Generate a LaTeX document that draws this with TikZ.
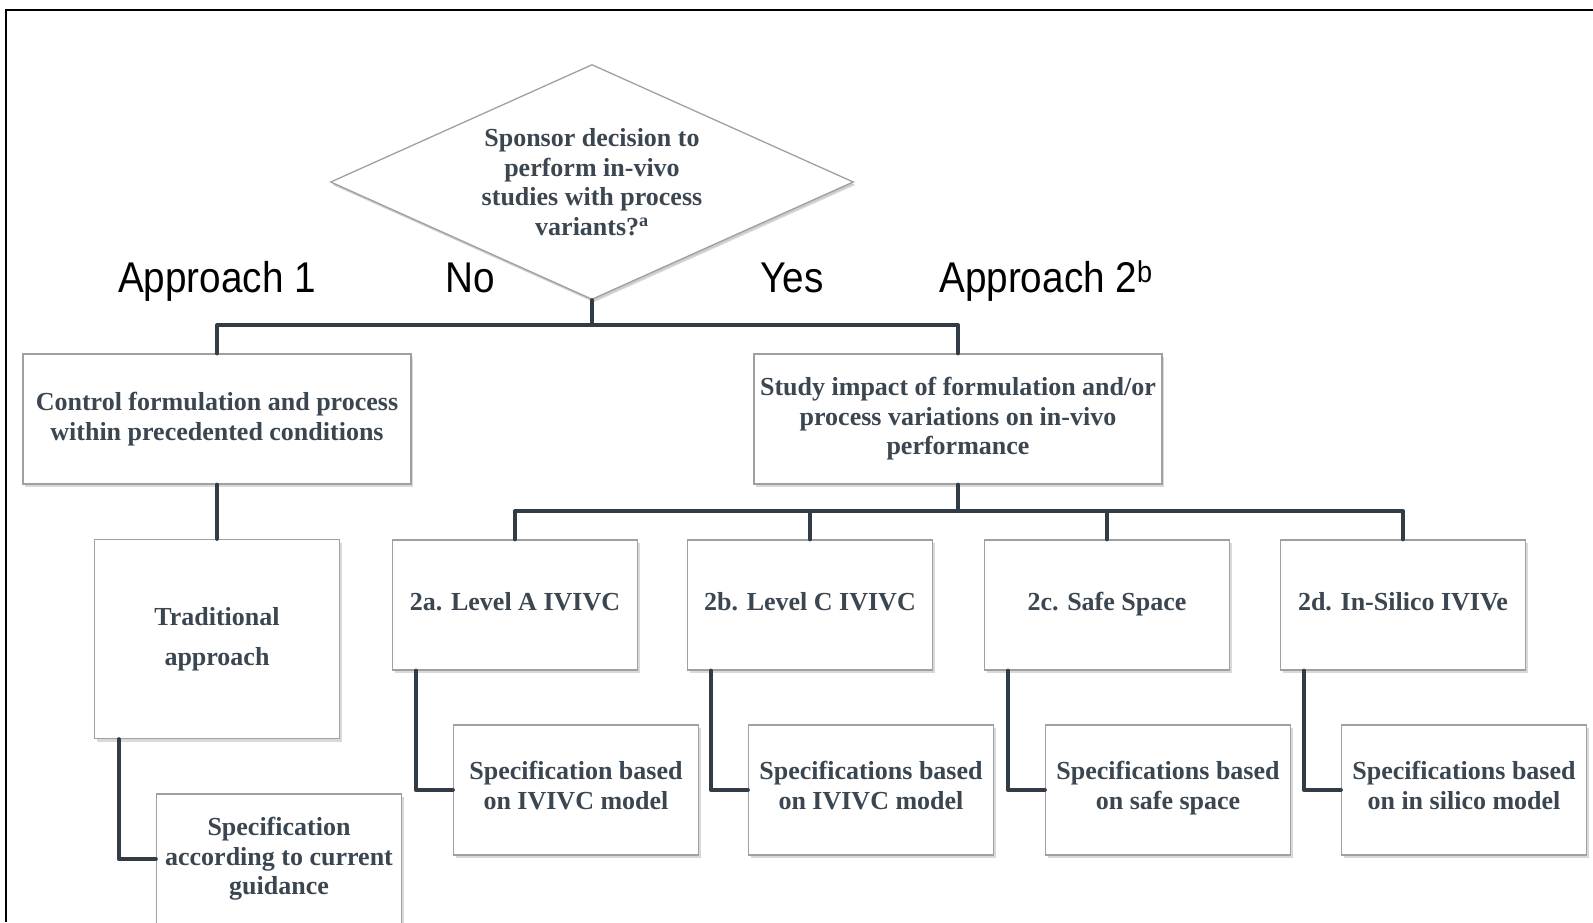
\documentclass[tikz,border=0pt]{standalone}
\usepackage{fontspec}
\setmainfont{Liberation Serif}
\newfontfamily\labelfont[FakeStretch=0.9]{Liberation Sans}
\usetikzlibrary{shapes.geometric, shadows}
\definecolor{boxtext}{HTML}{3B4650}
\definecolor{linkcol}{HTML}{323C46}
\definecolor{edgecol}{HTML}{A0A0A0}

\begin{document}
\begin{tikzpicture}[x=1pt, y=-1pt,
    box/.style={draw=edgecol, line width=1.3pt, fill=white, align=center,
      text=boxtext, inner sep=2pt,
      font=\fontsize{26}{29.5}\selectfont\bfseries,
      drop shadow={shadow xshift=2pt, shadow yshift=-3pt, opacity=0.3}},
    dec/.style={box, diamond, aspect=2.23, inner sep=0pt,
      minimum width=523pt, minimum height=235pt,
      drop shadow={shadow xshift=1pt, shadow yshift=-2pt, opacity=0.15}},
    lbl/.style={font=\labelfont\fontsize{43}{48}\selectfont, anchor=base},
    conn/.style={draw=linkcol, line width=4pt, line cap=round, line join=round}]
  \useasboundingbox (0,0) rectangle (1593,922);
  \draw[line width=2pt] (6,922) -- (6,10) -- (1593,10);  % frame

  % decision
  \node[dec] (q) at (592,182)
    {Sponsor decision to\\perform in-vivo\\studies with process\\variants?\textsuperscript{a}};
  \node[lbl] (ap1) at (217,292) {Approach 1};
  \node[lbl] (no) at (470,292) {No};
  \node[lbl] (yes) at (792,292) {Yes};
  \node[lbl] (ap2) at (1046,292) {Approach 2\textsuperscript{b}};

  % approach 1
  \node[box, minimum width=388pt, minimum height=130pt] (ctrl) at (217,419)
    {Control formulation and process\\within precedented conditions};
  \node[box, minimum width=245pt, minimum height=199pt] (trad) at (217,639)
    {Traditional\\[10.5pt]approach};
  \node[box, minimum width=245pt, minimum height=130pt] (spec) at (279,859)
    {Specification\\according to current\\guidance};

  % approach 2
  \node[box, minimum width=408pt, minimum height=130pt] (study) at (958,419)
    {Study impact of formulation and/or\\process variations on in-vivo\\performance};
  \foreach \n/\cx/\top/\sub in {a/515/{2a. Level A IVIVC}/{Specification based\\on IVIVC model},
      b/810/{2b. Level C IVIVC}/{Specifications based\\on IVIVC model},
      c/1107/{2c. Safe Space}/{Specifications based\\on safe space},
      d/1403/{2d. In-Silico IVIVe}/{Specifications based\\on in silico model}}{
    \node[box, minimum width=245pt, minimum height=130pt] (v2\n) at (\cx,605) {\strut\top};
    \node[box, minimum width=245pt, minimum height=130pt] (s2\n) at (\cx+61,790) {\sub\strut};
  }

  % links
  \coordinate (bus1) at (592,325);
  \coordinate (bus2) at (958,511);
  \draw[conn] (q.south) -- (bus1);
  \draw[conn] (ctrl.north) |- (bus1) -| (study.north);
  \draw[conn] (ctrl.south) -- (trad.north);
  \draw[conn] ([xshift=25pt]trad.south west) |- (spec.west);
  \draw[conn] (study.south) -- (bus2);
  \draw[conn] (v2a.north) |- (bus2) -| (v2d.north);
  \foreach \n in {b,c}
    \draw[conn] (v2\n.north) -- (v2\n.north |- bus2);
  \foreach \n in {a,b,c,d}
    \draw[conn] ([xshift=24pt]v2\n.south west) |- (s2\n.west);
\end{tikzpicture}
\end{document}
